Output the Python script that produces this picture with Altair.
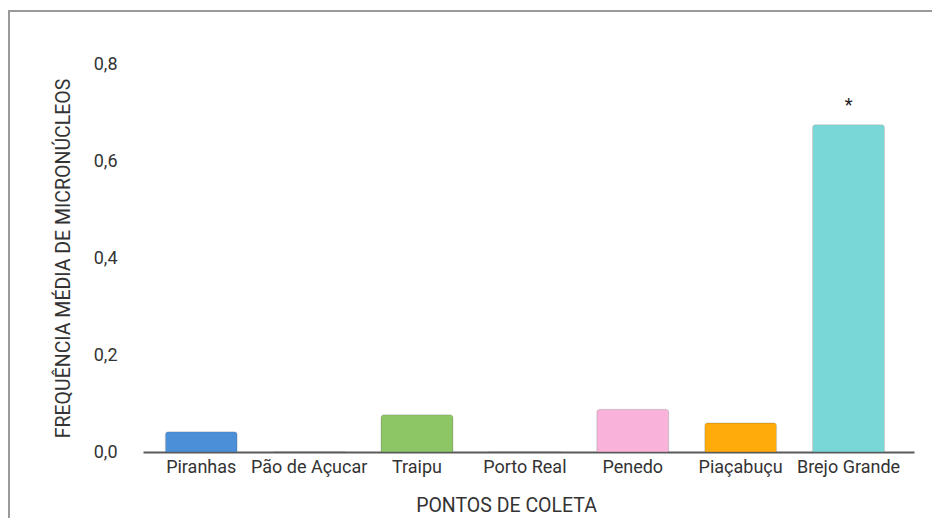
import altair as alt
import pandas as pd

sites = ["Piranhas", "Pão de Açucar", "Traipu", "Porto Real", "Penedo", "Piaçabuçu", "Brejo Grande"]
values = [0.042, 0.0, 0.077, 0.0, 0.088, 0.060, 0.675]
marks = ["", "", "", "", "", "", "*"]
colors = ["#4a8fd8", "#4a8fd8", "#8cc665", "#8cc665", "#f9b3da", "#ffab0a", "#79d8d7"]
y_ticks = [0.0, 0.2, 0.4, 0.6, 0.8]

df = pd.DataFrame({"site": sites, "value": values, "mark": marks, "color": colors})

FONT = "Roboto"

x_enc = alt.X(
    "site:N",
    sort=None,
    scale=alt.Scale(paddingInner=0.333, paddingOuter=0.24, align=0.43),
    axis=alt.Axis(
        title="PONTOS DE COLETA",
        labelAngle=0,
        ticks=False,
        labelPadding=6,
        labelFontSize=18,
        labelColor="#333333",
        titleFontSize=19.5,
        titleFontWeight="normal",
        titleColor="#333333",
        titlePadding=20,
        titleX=363,
        domainColor="#5a5a5a",
        domainWidth=2,
    ),
)
y_enc = alt.Y(
    "value:Q",
    scale=alt.Scale(domain=[0, 0.8], nice=False),
    axis=alt.Axis(
        title="FREQUÊNCIA MÉDIA DE MICRONÚCLEOS",
        values=y_ticks,
        labelExpr="replace(format(datum.value, '.1f'), '.', ',')",
        domain=False,
        ticks=False,
        grid=False,
        labelPadding=26,
        labelFontSize=18,
        labelColor="#333333",
        titleFontSize=19.5,
        titleFontWeight="normal",
        titleColor="#333333",
        titlePadding=20,
    ),
)

bars = alt.Chart(df).mark_bar(
    cornerRadiusTopLeft=3, cornerRadiusTopRight=3, strokeWidth=1, strokeOpacity=0.2, stroke="#555555"
).encode(
    x=x_enc,
    y=y_enc,
    color=alt.Color("color:N", scale=None),
)

stars = alt.Chart(df).mark_text(dy=-19, fontSize=18, font=FONT, color="#222222").encode(
    x=alt.X("site:N", sort=None),
    y="value:Q",
    text="mark:N",
)

frame_df = pd.DataFrame({"k": [0]})
left_frame = alt.Chart(frame_df).mark_rule(color="#9a9a9a", strokeWidth=2).encode(
    x=alt.value(-134), y=alt.value(-54), y2=alt.value(470)
)
top_frame = alt.Chart(frame_df).mark_rule(color="#9a9a9a", strokeWidth=2).encode(
    x=alt.value(-135), x2=alt.value(900), y=alt.value(-53)
)

chart = alt.layer(bars, stars, left_frame, top_frame).properties(
    width=771,
    height=388,
    autosize=alt.AutoSizeParams(type="none"),
    padding={"left": 135, "top": 56, "right": 18, "bottom": 66},
).configure(font=FONT).configure_view(stroke=None)

chart.save("out.html", embed_options={"renderer": "svg", "actions": False})
